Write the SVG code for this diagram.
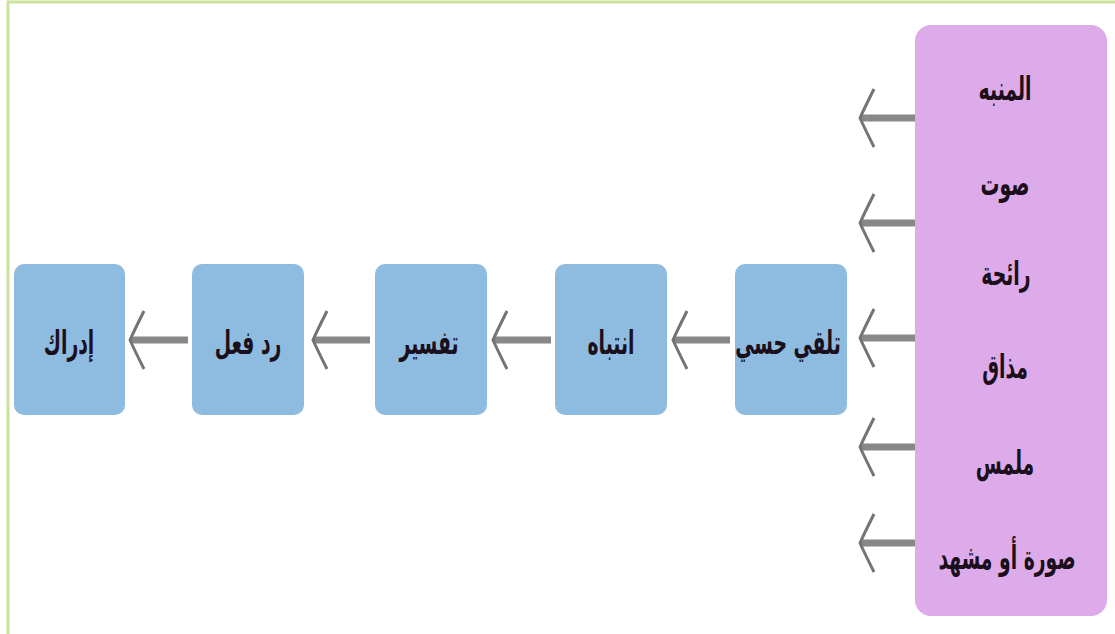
<svg xmlns="http://www.w3.org/2000/svg" width="1115" height="634" viewBox="0 0 1115 634">
<style>
.frame{stroke:#c9e39b;stroke-width:3;fill:none}
.stim{fill:#ddabe9}
.step{fill:#8ebbe0}
.lbl{font-family:"DejaVu Sans","Noto Sans",sans-serif;font-weight:bold;font-size:33px;fill:#1a0f1a;text-anchor:middle;dominant-baseline:central}
.conn{stroke:#888888;stroke-width:7;fill:none;marker-end:url(#chev)}
</style>
<defs>
<marker id="chev" markerUnits="userSpaceOnUse" markerWidth="40" markerHeight="70" viewBox="-20 -35 40 70" refX="0" refY="0" orient="auto">
<path d="M-14,-29 Q-4,-9 0,0 Q-4,9 -14,29" fill="none" stroke="#747474" stroke-width="3"/>
</marker>
</defs>
<rect width="1115" height="634" fill="#ffffff"/>
<path class="frame" d="M1115,2 H8 V634"/>
<g id="connectors">
<line class="conn" x1="915" y1="118" x2="860" y2="118"/>
<line class="conn" x1="915" y1="223" x2="860" y2="223"/>
<line class="conn" x1="915" y1="338" x2="860" y2="338"/>
<line class="conn" x1="915" y1="447" x2="860" y2="447"/>
<line class="conn" x1="915" y1="543" x2="860" y2="543"/>
<line class="conn" x1="730" y1="340" x2="673" y2="340"/>
<line class="conn" x1="551" y1="340" x2="493" y2="340"/>
<line class="conn" x1="370" y1="340" x2="313" y2="340"/>
<line class="conn" x1="188" y1="340" x2="130" y2="340"/>
</g>
<g id="stimulus">
<rect class="stim" x="915" y="25" width="192" height="591" rx="16"/>
<text class="lbl" transform="translate(1005,88) scale(0.57,1)">المنبه</text>
<text class="lbl" transform="translate(1005,183) scale(0.57,1)">صوت</text>
<text class="lbl" transform="translate(1006,273) scale(0.57,1)">رائحة</text>
<text class="lbl" transform="translate(1005,366) scale(0.57,1)">مذاق</text>
<text class="lbl" transform="translate(1005,462) scale(0.57,1)">ملمس</text>
<text class="lbl" transform="translate(1007,557) scale(0.57,1)">صورة أو مشهد</text>
</g>
<g id="n-sense">
<rect class="step" x="735" y="264" width="112" height="151" rx="10"/>
<text class="lbl" transform="translate(788,342) scale(0.57,1)">تلقي حسي</text>
</g>
<g id="n-attention">
<rect class="step" x="555" y="264" width="112" height="151" rx="10"/>
<text class="lbl" transform="translate(611,342) scale(0.57,1)">انتباه</text>
</g>
<g id="n-interpret">
<rect class="step" x="375" y="264" width="112" height="151" rx="10"/>
<text class="lbl" transform="translate(429,342) scale(0.57,1)">تفسير</text>
</g>
<g id="n-reaction">
<rect class="step" x="192" y="264" width="112" height="151" rx="10"/>
<text class="lbl" transform="translate(248,342) scale(0.57,1)">رد فعل</text>
</g>
<g id="n-perception">
<rect class="step" x="14" y="264" width="111" height="151" rx="10"/>
<text class="lbl" transform="translate(69,342) scale(0.57,1)">إدراك</text>
</g>
</svg>
